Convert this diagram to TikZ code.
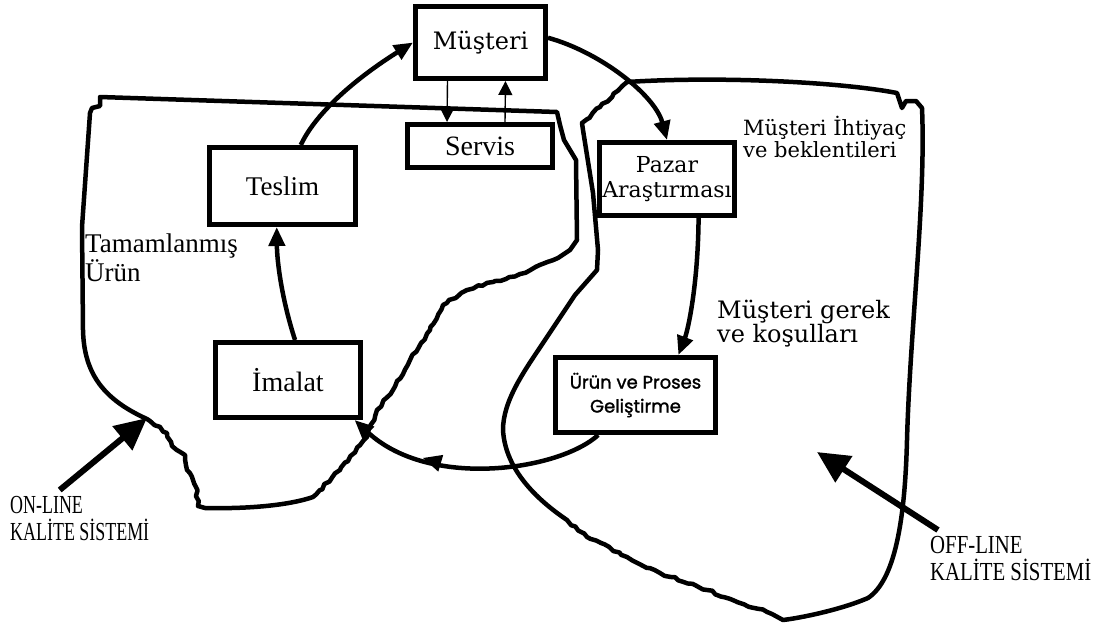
\documentclass[tikz,border=0pt]{standalone}
\usepackage{fontspec}
\setmainfont{Liberation Serif}
\newfontfamily\wideserif{DejaVu Serif}
\newfontfamily\narrowserif[FakeStretch=0.69]{Liberation Serif}
\newfontfamily\narrowserifb[FakeStretch=0.8]{Liberation Serif}
\newfontfamily\roundsans[FakeBold=1.5]{Poppins}
\usetikzlibrary{arrows.meta,decorations.pathmorphing,decorations.markings}

\begin{document}
\pgfmathsetseed{11}
\begin{tikzpicture}[
			x = 1pt, y = -1pt,
			box/.style = {draw, line width = 5pt, fill = white, inner sep = 0pt, align = center},
			flow/.style = {line width = 4.5pt, -{Triangle[length=19pt,width=16pt]}},
			servline/.style = {line width = 1.4pt, -{Triangle[length=14pt,width=14pt]}},
			border/.style = {line width = 4.5pt, line join = round, line cap = round},
			jag/.style = {decoration = {random steps, segment length = 5pt, amplitude = 1.3pt}},
			fat/.style = {line width = 6pt, -{Triangle[length=32pt,width=30pt]}},
			label/.style = {anchor = north west, inner sep = 0pt, align = left}
			]

			\useasboundingbox (0,0) rectangle (1117,630);

			\draw[border] (100,97) -- (557,112) -- (560,125) -- (564,140) -- (570,150) -- (576,160)
				-- (577,240) -- (570,250) -- (558,258)
				decorate[jag]{(558,258) -- (520,274) -- (493,282) -- (467,290) -- (443,305) -- (430,330)
					-- (410,360) -- (393,390) -- (377,410) -- (367,437) -- (340,470) -- (313,497)}
				(313,497) .. controls (290,505) and (250,509) .. (205,508) -- (198,506)
				decorate[jag]{(198,506) -- (196,487) -- (187,470) -- (185,455) -- (172,446) -- (167,433) -- (147,419)}
				(147,419) .. controls (105,400) and (84,375) .. (83,330) -- (82,227) -- (90,113)
				-- (92,108) -- (100,106) -- (100,97);

			\draw[border] (627,82) .. controls (720,76) and (840,82) .. (897,93) -- (902,108) -- (906,101)
				-- (916,101) -- (922,108) .. controls (926,200) and (910,330) .. (907,440)
				.. controls (905,520) and (895,580) .. (868,598) .. controls (840,610) and (800,618) .. (783,620)
				-- (772,614)
				decorate[jag]{(772,614) -- (735,601) -- (707,590) -- (660,573) -- (627,557) -- (587,537) -- (567,520)}
				(567,520) .. controls (530,495) and (505,465) .. (503,430) .. controls (503,400) and (525,370) .. (545,340)
				-- (575,295) -- (597,270) -- (598,250) -- (593,193) -- (583,130) -- (582,123)
				decorate[jag]{(582,123) -- (600,107) -- (627,82)};

			\node[box, minimum width = 130pt, minimum height = 72pt,
				font = \wideserif\fontsize{24}{24}\selectfont] (must) at (480.5,42.5) {Müşteri};
			\node[box, minimum width = 145pt, minimum height = 43pt,
				font = \fontsize{28}{28}\selectfont] (serv) at (480,146) {Servis};
			\node[box, minimum width = 135pt, minimum height = 73pt,
				font = \wideserif\fontsize{22}{25}\selectfont] (pazar) at (667,179) {Pazar\\Araştırması};
			\node[box, minimum width = 146pt, minimum height = 77pt,
				font = \fontsize{27}{27}\selectfont] (teslim) at (282.5,186) {Teslim};
			\node[box, minimum width = 145pt, minimum height = 75pt,
				font = \fontsize{28}{28}\selectfont] (imalat) at (288,380) {İmalat};
			\node[box, minimum width = 160pt, minimum height = 75pt,
				font = \roundsans\fontsize{18}{24}\selectfont] (urun) at (635.5,395) {Ürün ve Proses\\Geliştirme};

			\draw[flow] (teslim.66) .. controls (322,100) and (385,60) .. (must.west);
			\draw[flow] (must.4) .. controls (600,52) and (655,95) .. (pazar.north);
			\draw[flow] (pazar.-51) .. controls (698,285) and (688,330) .. (urun.43);
			\draw[flow, postaction = {decorate, decoration = {markings,
				mark = at position 0.7 with {\arrow{Triangle[length=19pt,width=16pt]}}}}]
				(urun.-133) .. controls (560,470) and (430,490) .. (imalat.-31);
			\draw[flow] (imalat.80) .. controls (282,300) and (277,262) .. (teslim.-98);

			\draw[servline] ([xshift=-33pt]must.south) -- ([xshift=-33pt]serv.north);
			\draw[servline] ([xshift=25pt]serv.north) -- ([xshift=25pt]must.south);

			\node[label, font = \wideserif\fontsize{21}{22}\selectfont] (ihtiyac) at (743,116) {Müşteri İhtiyaç\\ve beklentileri};
			\node[label, font = \wideserif\fontsize{24}{24}\selectfont] (gerek) at (717,300) {Müşteri gerek\\ve koşulları};
			\node[label, font = \fontsize{27}{26}\selectfont] (tamam) at (85,234) {Tamamlanmış\\Ürün};
			\node[label, font = \narrowserif\fontsize{26}{27}\selectfont] (online) at (10,496) {ON-LINE\\KALİTE SİSTEMİ};
			\node[label, font = \narrowserifb\fontsize{26}{27}\selectfont] (offline) at (930,536) {OFF-LINE\\KALİTE SİSTEMİ};

			\coordinate (ontip) at (147,418);
			\coordinate (offtip) at (817,452);
			\draw[fat] ([xshift=-20pt,yshift=6pt]online.north) -- (ontip);
			\draw[fat] ([xshift=8pt,yshift=6pt]offline.north west) -- (offtip);

		\end{tikzpicture}
\end{document}
